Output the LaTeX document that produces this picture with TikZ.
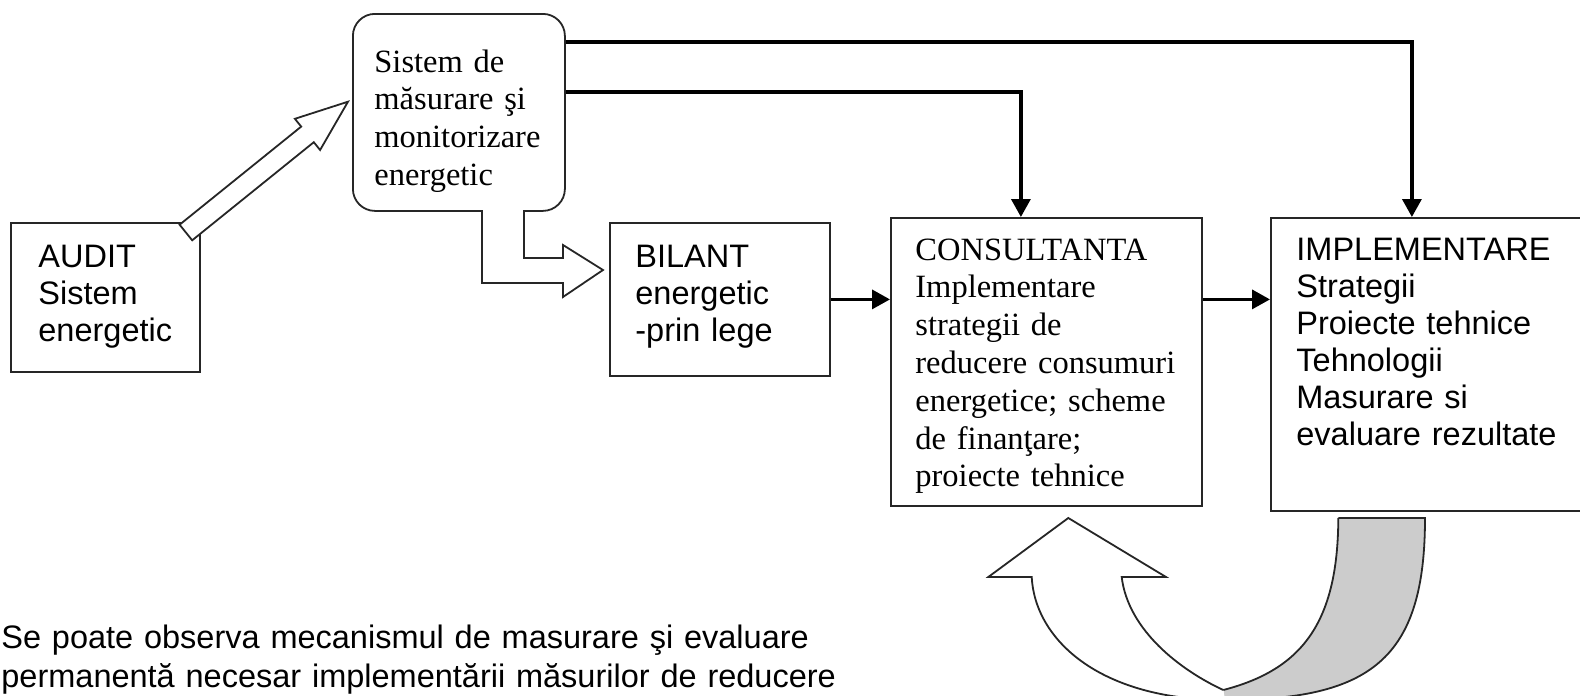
\documentclass[tikz,border=0pt]{standalone}
\usepackage{fontspec}
\setmainfont{Liberation Serif}
\setsansfont{Liberation Sans}
\usetikzlibrary{arrows.meta}

\begin{document}
\begin{tikzpicture}[x=0.5pt, y=-0.5pt,
	box/.style={rectangle, draw=black!85, line width=0.9pt, inner sep=0pt, anchor=north west},
	sanstxt/.style={font=\sffamily\fontsize{16.25pt}{18.5pt}\selectfont, align=left, text width=150pt, inner sep=0pt, anchor=base west},
	seriftxt/.style={font=\rmfamily\fontsize{16.25pt}{18.9pt}\selectfont, align=left, text width=150pt, inner sep=0pt, anchor=base west},
	conn/.style={line width=1.7pt, -{Triangle[length=9pt, width=9.5pt]}},
	hollow/.style={draw=black!85, line width=0.9pt, fill=white}]
				\useasboundingbox (0,0) rectangle (1580,696);
				\clip (0,0) rectangle (1580,696);
				
				\node[box, minimum width=94.5pt, minimum height=74.5pt] (audit) at (10,222) {};
				\node[box, rounded corners=11pt, minimum width=106pt, minimum height=98.5pt] (sistem) at (352,13) {};
				\node[box, minimum width=110pt, minimum height=76.5pt] (bilant) at (609,222) {};
				\node[box, minimum width=155.5pt, minimum height=144pt] (cons) at (890,217) {};
				\node[box, minimum width=157.5pt, minimum height=146.5pt] (impl) at (1270,217) {};
				
				\node[sanstxt] (audittxt) at (38,267) {AUDIT\\Sistem\\energetic};
				\node[seriftxt] (sistemtxt) at (374,72) {Sistem de\\măsurare şi\\monitorizare\\energetic};
				\node[sanstxt] (bilanttxt) at (635,267) {BILANT\\energetic\\-prin lege};
				\node[seriftxt] (constxt) at (915,260) {CONSULTANTA\\Implementare\\strategii de\\reducere consumuri\\energetice; scheme\\de finanţare;\\proiecte tehnice};
				\node[sanstxt] (impltxt) at (1296,260) {IMPLEMENTARE\\Strategii\\Proiecte tehnice\\Tehnologii\\Masurare si\\evaluare rezultate};
				\node[sanstxt, font=\sffamily\fontsize{16.25pt}{19.5pt}\selectfont, text width=430pt] (nota) at (1,648) {Se poate observa mecanismul de masurare şi evaluare\\permanentă necesar implementării măsurilor de reducere};
				
				\draw[hollow] (179.6,224.7) -- (301.2,126.6) -- (294.9,118.8) -- (348,101.7) -- (320.1,150) -- (313.8,142.2) -- (192.2,240.3) -- cycle;
				\draw[hollow] (482,210) -- (482,283) -- (563,283) -- (563,297) -- (603,270) -- (563,245) -- (563,258) -- (524,258) -- (524,210);
				
				\draw[conn] (bilant.east) -- (bilant.east -| cons.west);
				\draw[conn] (cons.east |- bilant.east) -- (impl.west |- bilant.east);
				\draw[conn] ([yshift=-14.5pt]sistem.north east) -| ([xshift=-8.25pt]impl.north);
				\draw[conn] ([yshift=-39.5pt]sistem.north east) -| ([xshift=-12.75pt]cons.north);
				
				\fill[black!20] (1338.3,518) -- (1425,518) .. controls (1425,660) and (1370,700) .. (1225,700) -- (1223.3,690) .. controls (1300,670) and (1338,625) .. (1338.3,518) -- cycle;
				\fill[white] (1121.7,577) .. controls (1128,630) and (1180,670) .. (1223.3,690) -- (1225,700) .. controls (1100,700) and (1035,640) .. (1031.7,577) -- (988.3,577) -- (1068.3,518) -- (1166,577) -- cycle;
				\draw[draw=black!85, line width=0.9pt] (1338.3,518) -- (1425,518) .. controls (1425,660) and (1370,700) .. (1225,700) .. controls (1100,700) and (1035,640) .. (1031.7,577) -- (988.3,577) -- (1068.3,518) -- (1166,577) -- (1121.7,577) .. controls (1128,630) and (1180,670) .. (1223.3,690);
				\draw[draw=black!85, line width=0.9pt] (1223.3,690) .. controls (1300,670) and (1338,625) .. (1338.3,518);
			\end{tikzpicture}
\end{document}
